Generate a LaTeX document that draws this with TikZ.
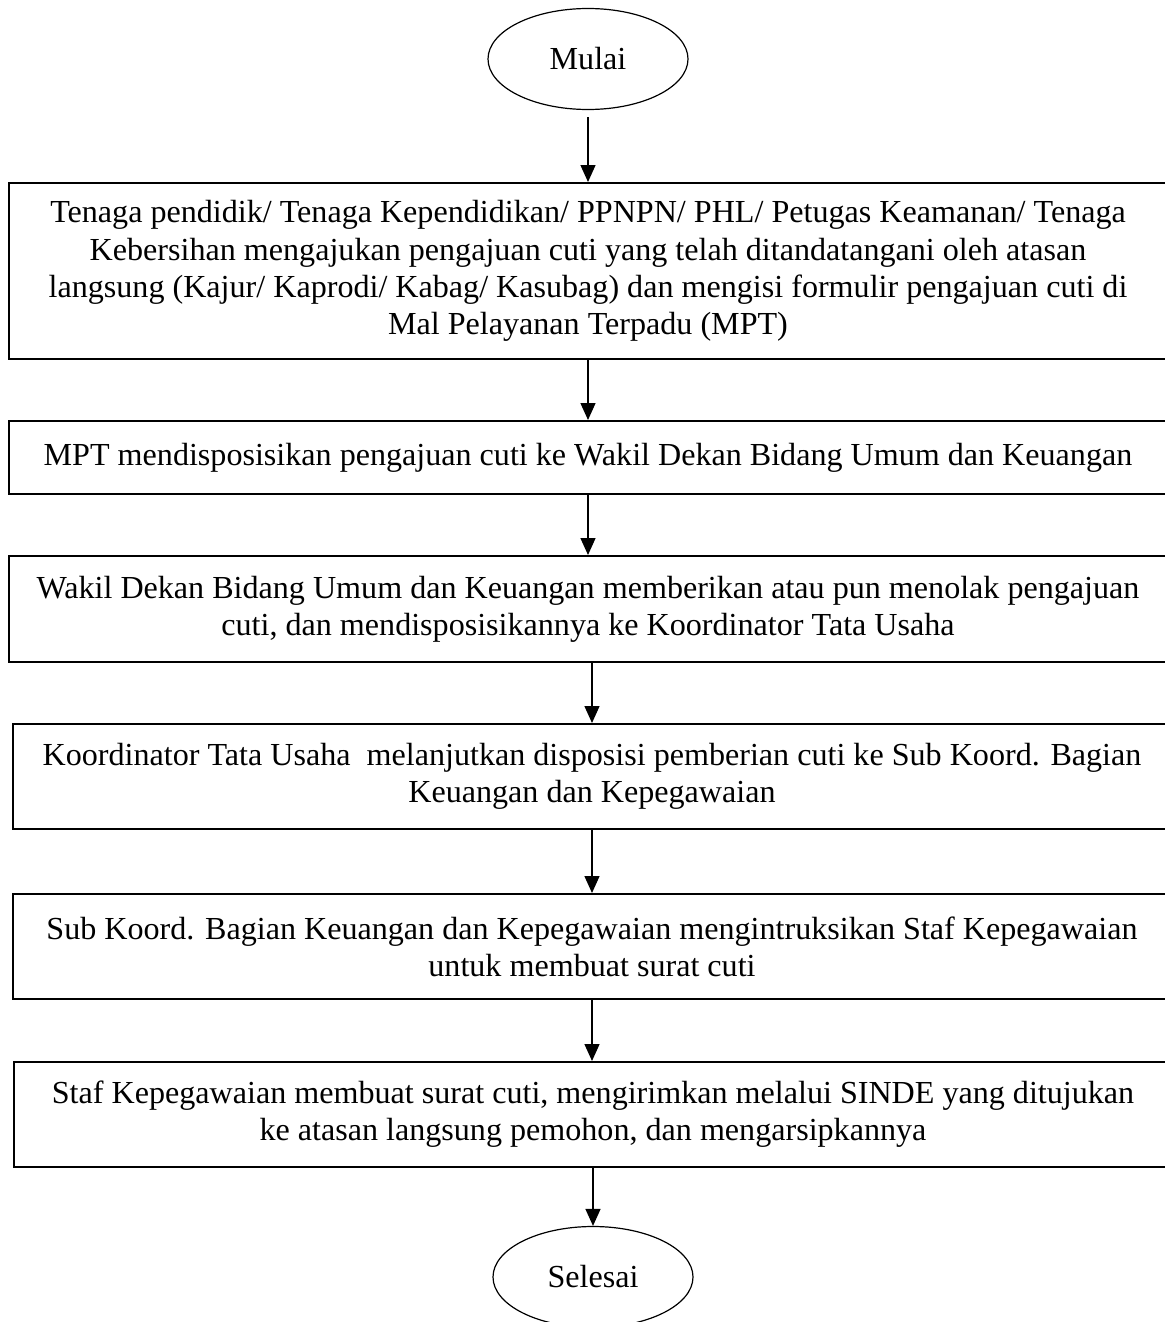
\documentclass[tikz,border=0pt]{standalone}
\usepackage{fontspec}
\setmainfont{Liberation Serif}
\usetikzlibrary{arrows.meta, shapes.geometric}

\begin{document}
\begin{tikzpicture}[
			x = 0.5pt, y = -0.5pt, % one unit per pixel, y going down
			> = {Triangle[length=8.5pt, width=7.5pt]}, % arrow head style
			font = \fontsize{16.05}{18.6}\selectfont,
			prosesbox/.style = {rectangle, draw, line width=1pt, minimum width=579pt, align=center},
			terminal/.style = {ellipse, draw, line width=0.6pt, minimum width=100pt, minimum height=50.5pt},
			alur/.style = {->, line width=0.7pt},
		]
		\useasboundingbox (0,0) rectangle (1164,1322);
		\node[terminal] (mulai) at (588,59){Mulai};
		\node[prosesbox, minimum height=88pt] (p1) at (588,271){Tenaga pendidik/ Tenaga Kependidikan/ PPNPN/ PHL/ Petugas Keamanan/ Tenaga\\Kebersihan mengajukan pengajuan cuti yang telah ditandatangani oleh atasan\\langsung (Kajur/ Kaprodi/ Kabag/ Kasubag) dan mengisi formulir pengajuan cuti di\\Mal Pelayanan Terpadu (MPT)};
		\node[prosesbox, minimum height=36.5pt] (p2) at (588,457.5){MPT mendisposisikan pengajuan cuti ke Wakil Dekan Bidang Umum dan Keuangan};
		\node[prosesbox, minimum height=53pt] (p3) at (588,609){Wakil Dekan Bidang Umum dan Keuangan memberikan atau pun menolak pengajuan\\cuti, dan mendisposisikannya ke Koordinator Tata Usaha};
		\node[prosesbox, minimum height=52.5pt] (p4) at (592,776.5){Koordinator Tata Usaha\ \ melanjutkan disposisi pemberian cuti ke Sub Koord. Bagian\\Keuangan dan Kepegawaian};
		\node[prosesbox, minimum height=52.5pt] (p5) at (592,946.5){Sub Koord. Bagian Keuangan dan Kepegawaian mengintruksikan Staf Kepegawaian\\untuk membuat surat cuti};
		\node[prosesbox, minimum height=52.5pt] (p6) at (593,1114.5){Staf Kepegawaian membuat surat cuti, mengirimkan melalui SINDE yang ditujukan\\ke atasan langsung pemohon, dan mengarsipkannya};
		\node[terminal] (selesai) at (593,1277){Selesai};
		\draw[alur, shorten <=3.5pt] (mulai.south) to (mulai.south |- p1.north);
		\draw[alur] (p1.south) to (p1.south |- p2.north);
		\draw[alur] (p2.south) to (p2.south |- p3.north);
		\draw[alur] (p4.north |- p3.south) to (p4.north);
		\draw[alur] (p4.south) to (p4.south |- p5.north);
		\draw[alur] (p5.south) to (p5.south |- p6.north);
		\draw[alur] (p6.south) to (selesai.north);
		\end{tikzpicture}
\end{document}
